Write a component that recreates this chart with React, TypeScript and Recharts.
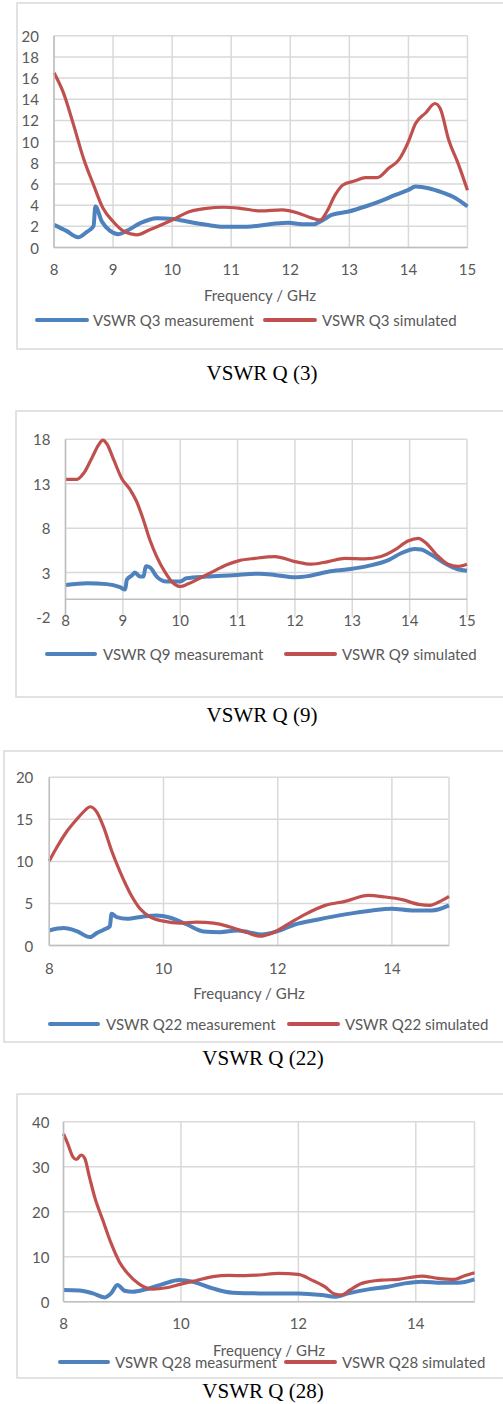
import React from 'react';
import { LineChart, Line, XAxis, YAxis, CartesianGrid, ReferenceLine } from 'recharts';

const W = 503;
const H = 1404;
const BLUE = '#4f81bd';
const RED = '#c0504d';
const GRID = '#d9d9d9';
const AXIS = '#bfbfbf';
const TEXT = '#595959';
const FONT = 'Lato, "Open Sans", sans-serif';
const SERIF = '"Liberation Serif", "Times New Roman", serif';

// Q3
const q3MeasFreq = [8.0, 8.21, 8.41, 8.55, 8.67, 8.7, 8.81, 8.95, 9.09, 9.23, 9.46, 9.74, 10.02, 10.3, 10.58, 10.87, 11.15, 11.43, 11.75, 11.97, 12.2, 12.4, 12.54, 12.7, 12.99, 13.27, 13.55, 13.78, 14.0, 14.12, 14.34, 14.57, 14.8, 15.0];
const q3MeasVswr = [2.14, 1.57, 0.97, 1.45, 2.04, 3.87, 2.45, 1.57, 1.26, 1.57, 2.3, 2.77, 2.7, 2.4, 2.14, 1.95, 1.95, 2.04, 2.26, 2.33, 2.2, 2.2, 2.55, 3.08, 3.4, 3.87, 4.43, 4.97, 5.44, 5.75, 5.6, 5.2, 4.65, 3.87];
const q3SimFreq = [8.0, 8.16, 8.33, 8.5, 8.67, 8.83, 9.0, 9.17, 9.4, 9.62, 10.0, 10.3, 10.58, 10.87, 11.15, 11.5, 11.86, 12.14, 12.37, 12.51, 12.62, 12.76, 12.89, 13.1, 13.27, 13.47, 13.67, 13.84, 14.0, 14.12, 14.29, 14.45, 14.54, 14.68, 14.85, 15.0];
const q3SimVswr = [16.5, 14.6, 11.6, 8.4, 5.9, 3.7, 2.45, 1.57, 1.2, 1.67, 2.6, 3.4, 3.7, 3.8, 3.7, 3.45, 3.55, 3.24, 2.77, 2.6, 3.4, 4.97, 5.9, 6.3, 6.6, 6.6, 7.5, 8.3, 10.0, 11.7, 12.7, 13.6, 13.1, 10.2, 7.8, 5.4];

// Q9
const q9MeasFreq = [8.0, 8.38, 8.72, 8.95, 9.04, 9.07, 9.16, 9.21, 9.3, 9.36, 9.4, 9.47, 9.59, 9.76, 10.0, 10.11, 10.46, 10.92, 11.38, 11.65, 12.0, 12.23, 12.58, 12.93, 13.28, 13.63, 13.86, 14.09, 14.2, 14.38, 14.61, 14.84, 15.0];
const q9MeasVswr = [1.6, 1.8, 1.7, 1.35, 1.1, 2.2, 2.7, 3.0, 2.55, 2.55, 3.7, 3.6, 2.55, 2.0, 2.0, 2.36, 2.55, 2.7, 2.88, 2.74, 2.47, 2.6, 3.1, 3.37, 3.75, 4.4, 5.2, 5.66, 5.6, 5.0, 4.05, 3.37, 3.2];
const q9SimFreq = [8.0, 8.2, 8.32, 8.46, 8.58, 8.65, 8.72, 8.84, 8.98, 9.13, 9.24, 9.36, 9.47, 9.59, 9.73, 9.88, 10.0, 10.14, 10.34, 10.57, 10.8, 11.03, 11.3, 11.65, 12.0, 12.29, 12.58, 12.87, 13.22, 13.5, 13.74, 13.97, 14.15, 14.29, 14.47, 14.67, 14.84, 15.0];
const q9SimVswr = [13.5, 13.5, 14.2, 15.9, 17.4, 17.9, 17.5, 15.7, 13.6, 12.3, 11.0, 8.9, 6.7, 4.8, 3.1, 1.8, 1.43, 1.73, 2.36, 3.1, 3.86, 4.35, 4.6, 4.8, 4.24, 3.94, 4.24, 4.6, 4.54, 4.8, 5.55, 6.56, 6.86, 6.3, 5.0, 3.94, 3.7, 3.94];

// Q22
const q22MeasFreq = [8.0, 8.25, 8.48, 8.71, 8.83, 8.95, 9.06, 9.09, 9.18, 9.36, 9.65, 9.88, 10.12, 10.41, 10.7, 10.99, 11.29, 11.49, 11.72, 12.0, 12.3, 12.71, 13.18, 13.65, 14.0, 14.35, 14.7, 15.0];
const q22MeasVswr = [1.79, 2.07, 1.71, 1.0, 1.47, 1.87, 2.27, 3.78, 3.38, 3.18, 3.46, 3.58, 3.3, 2.5, 1.67, 1.59, 1.79, 1.59, 1.31, 1.71, 2.5, 3.1, 3.7, 4.17, 4.37, 4.17, 4.17, 4.77];
const q22SimFreq = [8.0, 8.13, 8.3, 8.48, 8.63, 8.71, 8.83, 8.95, 9.09, 9.24, 9.42, 9.59, 9.77, 10.0, 10.29, 10.58, 10.88, 11.17, 11.46, 11.69, 11.9, 12.19, 12.48, 12.83, 13.18, 13.59, 13.88, 14.18, 14.47, 14.67, 14.82, 15.0];
const q22SimVswr = [10.06, 11.65, 13.5, 15.0, 16.1, 16.5, 15.9, 14.1, 11.3, 8.75, 6.16, 4.37, 3.38, 2.9, 2.66, 2.78, 2.66, 2.19, 1.55, 1.11, 1.47, 2.58, 3.7, 4.77, 5.25, 5.96, 5.77, 5.45, 4.89, 4.77, 5.17, 5.85];

// Q28
const q28MeasFreq = [8.0, 8.27, 8.5, 8.7, 8.81, 8.92, 9.04, 9.18, 9.4, 9.69, 9.97, 10.2, 10.54, 10.88, 11.33, 12.0, 12.4, 12.62, 12.85, 13.19, 13.53, 13.81, 14.1, 14.44, 14.72, 15.0];
const q28MeasVswr = [2.6, 2.5, 1.85, 0.96, 1.85, 3.7, 2.44, 2.2, 2.74, 3.9, 4.8, 4.44, 2.96, 2.0, 1.85, 1.85, 1.48, 1.1, 1.85, 2.74, 3.33, 4.07, 4.44, 4.2, 4.2, 4.96];
const q28SimFreq = [8.0, 8.07, 8.16, 8.22, 8.3, 8.36, 8.44, 8.53, 8.67, 8.81, 8.95, 9.09, 9.29, 9.52, 9.75, 10.0, 10.25, 10.54, 10.82, 11.1, 11.33, 11.66, 12.0, 12.23, 12.45, 12.62, 12.74, 12.88, 13.08, 13.42, 13.7, 14.1, 14.38, 14.66, 14.83, 15.0];
const q28SimVswr = [37.3, 35.2, 32.2, 31.6, 32.6, 31.9, 27.8, 23.3, 18.1, 13.0, 8.9, 6.3, 3.9, 2.8, 3.1, 3.9, 4.67, 5.56, 5.85, 5.78, 5.93, 6.3, 6.07, 4.8, 3.33, 1.7, 1.48, 2.6, 4.07, 4.8, 4.96, 5.7, 5.19, 4.96, 5.78, 6.44];

const freqTicksAll = [8, 9, 10, 11, 12, 13, 14, 15];
const freqTicksEven = [8, 10, 12, 14];

const zip = (f: number[], v: number[]) => f.map((freq, i) => ({ freq, vswr: v[i] }));

interface LegendItem { x1: number; x2: number; tx: number; }

interface ChartSpec {
  key: string;
  frameTop: number;
  frameBottom: number;
  frameLeft: number;
  plotLeft: number;
  plotRight: number;
  plotTop: number;
  plotBottom: number;
  yDomain: [number, number];
  yTicks: number[];
  gridY?: number[];
  xTicks: number[];
  axisAtZero?: boolean;
  xLabelDy: number;
  yLabelGap: number;
  meas: { freq: number; vswr: number }[];
  sim: { freq: number; vswr: number }[];
  measName: string;
  simName: string;
  axisTitle?: { text: string; x: number; y: number };
  legendY: number;
  legend: [LegendItem, LegendItem];
  caption: { text: string; x: number; y: number };
}

const charts: ChartSpec[] = [
  {
    key: 'q3', frameTop: 3, frameBottom: 349, frameLeft: 17,
    plotLeft: 54, plotRight: 467.5, plotTop: 35.7, plotBottom: 247.5,
    yDomain: [0, 20], yTicks: [0, 2, 4, 6, 8, 10, 12, 14, 16, 18, 20], xTicks: freqTicksAll,
    xLabelDy: 21.5, yLabelGap: 15,
    meas: zip(q3MeasFreq, q3MeasVswr), sim: zip(q3SimFreq, q3SimVswr),
    measName: 'VSWR Q3 measurement', simName: 'VSWR Q3 simulated',
    axisTitle: { text: 'Frequency / GHz', x: 260, y: 295 },
    legendY: 320, legend: [{ x1: 37, x2: 87, tx: 93 }, { x1: 265, x2: 315, tx: 322 }],
    caption: { text: 'VSWR Q (3)', x: 262, y: 373 },
  },
  {
    key: 'q9', frameTop: 411, frameBottom: 697, frameLeft: 16,
    plotLeft: 65.5, plotRight: 467, plotTop: 439.3, plotBottom: 617,
    yDomain: [-2, 18], yTicks: [-2, 3, 8, 13, 18], gridY: [3, 8, 13, 18], xTicks: freqTicksAll,
    axisAtZero: true, xLabelDy: 3, yLabelGap: 15,
    meas: zip(q9MeasFreq, q9MeasVswr), sim: zip(q9SimFreq, q9SimVswr),
    measName: 'VSWR Q9 measuremant', simName: 'VSWR Q9 simulated',
    legendY: 654, legend: [{ x1: 47, x2: 95, tx: 103 }, { x1: 286, x2: 335, tx: 342 }],
    caption: { text: 'VSWR Q (9)', x: 262, y: 715 },
  },
  {
    key: 'q22', frameTop: 751, frameBottom: 1042, frameLeft: 4,
    plotLeft: 49.3, plotRight: 449, plotTop: 777.3, plotBottom: 945.5,
    yDomain: [0, 20], yTicks: [0, 5, 10, 15, 20], xTicks: freqTicksEven,
    xLabelDy: 22, yLabelGap: 16,
    meas: zip(q22MeasFreq, q22MeasVswr), sim: zip(q22SimFreq, q22SimVswr),
    measName: 'VSWR Q22 measurement', simName: 'VSWR Q22 simulated',
    axisTitle: { text: 'Frequancy / GHz', x: 249, y: 993 },
    legendY: 1024, legend: [{ x1: 50, x2: 98, tx: 106 }, { x1: 289, x2: 338, tx: 345 }],
    caption: { text: 'VSWR Q (22)', x: 263, y: 1058 },
  },
  {
    key: 'q28', frameTop: 1094, frameBottom: 1378, frameLeft: 17,
    plotLeft: 63.5, plotRight: 474.5, plotTop: 1121.7, plotBottom: 1301.7,
    yDomain: [0, 40], yTicks: [0, 10, 20, 30, 40], xTicks: freqTicksEven,
    xLabelDy: 21.5, yLabelGap: 14,
    meas: zip(q28MeasFreq, q28MeasVswr), sim: zip(q28SimFreq, q28SimVswr),
    measName: 'VSWR Q28 measurment', simName: 'VSWR Q28 simulated',
    axisTitle: { text: 'Frequency / GHz', x: 269, y: 1350 },
    legendY: 1362, legend: [{ x1: 60, x2: 108, tx: 115 }, { x1: 286, x2: 335, tx: 342 }],
    caption: { text: 'VSWR Q (28)', x: 263, y: 1391 },
  },
];

const Y_AXIS_W = 40;
const X_AXIS_H = 30;

const VswrChart = ({ c }: { c: ChartSpec }) => {
  const h = c.frameBottom - c.frameTop;
  const margin = {
    top: c.plotTop - c.frameTop,
    left: c.plotLeft - Y_AXIS_W,
    right: W - c.plotRight,
    bottom: h - (c.plotBottom - c.frameTop) - X_AXIS_H,
  };
  const axisLine = { stroke: AXIS, strokeWidth: 1.5 };
  return (
    <div style={{ position: 'absolute', left: 0, top: c.frameTop }}>
      <LineChart width={W} height={h} margin={margin}>
        <CartesianGrid stroke={GRID} strokeWidth={1.5} horizontalValues={c.gridY} />
        <XAxis
          type="number"
          dataKey="freq"
          domain={[8, 15]}
          ticks={c.xTicks}
          interval={0}
          height={X_AXIS_H}
          tickSize={0}
          tickMargin={0}
          tickLine={false}
          axisLine={c.axisAtZero ? false : axisLine}
          tick={(p: any) => (
            <text x={p.x} y={p.y + c.xLabelDy} textAnchor="middle" dominantBaseline="central"
              fill={TEXT} fontSize={15} fontFamily={FONT}>
              {p.payload.value}
            </text>
          )}
        />
        <YAxis
          type="number"
          domain={c.yDomain}
          ticks={c.yTicks}
          interval={0}
          width={Y_AXIS_W}
          tickSize={0}
          tickMargin={0}
          tickLine={false}
          axisLine={axisLine}
          tick={(p: any) => (
            <text x={p.x - c.yLabelGap} y={p.y} textAnchor="end" dominantBaseline="central"
              fill={TEXT} fontSize={15} fontFamily={FONT}>
              {p.payload.value}
            </text>
          )}
        />
        {c.axisAtZero && <ReferenceLine y={0} stroke={AXIS} strokeWidth={1.5} />}
        <Line data={c.meas} dataKey="vswr" name={c.measName} type="monotone" stroke={BLUE}
          strokeWidth={4} dot={false} isAnimationActive={false} />
        <Line data={c.sim} dataKey="vswr" name={c.simName} type="monotone" stroke={RED}
          strokeWidth={3.2} dot={false} isAnimationActive={false} />
      </LineChart>
    </div>
  );
};

export default function App() {
  return (
    <div style={{ position: 'absolute', left: 0, top: 0, width: W, height: H, background: '#fff', overflow: 'hidden' }}>
      {charts.map((c) => <VswrChart key={c.key} c={c} />)}
      <svg width={W} height={H} style={{ position: 'absolute', left: 0, top: 0, pointerEvents: 'none' }}>
        {charts.map((c) => (
          <g key={c.key}>
            <rect x={c.frameLeft} y={c.frameTop} width={W + 20} height={c.frameBottom - c.frameTop}
              fill="none" stroke={GRID} strokeWidth={1.5} />
            {c.axisTitle && (
              <text x={c.axisTitle.x} y={c.axisTitle.y} textAnchor="middle" dominantBaseline="central"
                fill={TEXT} fontSize={15} fontFamily={FONT}>
                {c.axisTitle.text}
              </text>
            )}
            {[c.measName, c.simName].map((name, i) => (
              <g key={name}>
                <line x1={c.legend[i].x1} x2={c.legend[i].x2} y1={c.legendY} y2={c.legendY}
                  stroke={i === 0 ? BLUE : RED} strokeWidth={4} strokeLinecap="round" />
                <text x={c.legend[i].tx} y={c.legendY} dominantBaseline="central"
                  fill={TEXT} fontSize={15} fontFamily={FONT}>
                  {name}
                </text>
              </g>
            ))}
            <text x={c.caption.x} y={c.caption.y} textAnchor="middle" dominantBaseline="central"
              fill="#000" fontSize={21} fontFamily={SERIF}>
              {c.caption.text}
            </text>
          </g>
        ))}
      </svg>
    </div>
  );
}
